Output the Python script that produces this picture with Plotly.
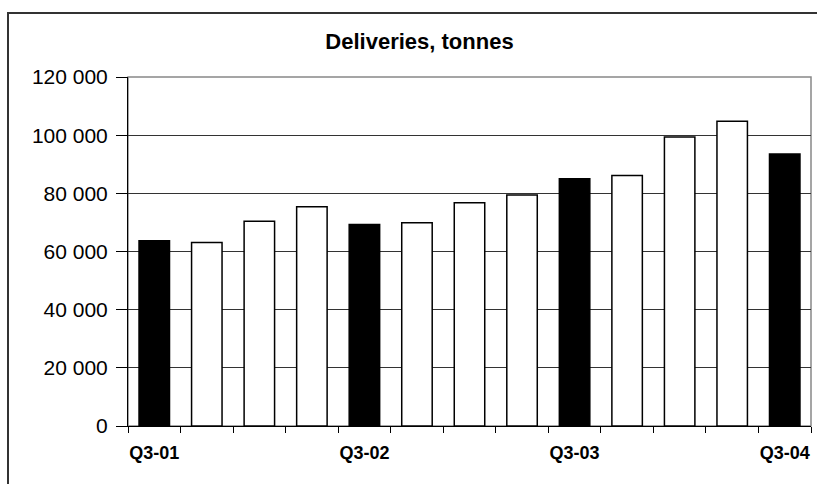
import plotly.graph_objects as go

quarters = ["Q3-01", "Q4-01", "Q1-02", "Q2-02", "Q3-02", "Q4-02", "Q1-03",
            "Q2-03", "Q3-03", "Q4-03", "Q1-04", "Q2-04", "Q3-04"]
deliveries = [63700, 63100, 70400, 75400, 69300, 69900, 76800,
              79400, 85000, 86100, 99400, 104800, 93500]
labelled = ["Q3-01", "Q3-02", "Q3-03", "Q3-04"]
y_ticks = [0, 20000, 40000, 60000, 80000, 100000, 120000]
y_tick_text = ["0", "20 000", "40 000", "60 000", "80 000", "100 000", "120 000"]

W, H = 817, 484
ML, MR, MT, MB = 128, 6, 77, 58

colors = ["black" if q.startswith("Q3") else "white" for q in quarters]

fig = go.Figure(go.Bar(
    x=quarters, y=deliveries,
    marker=dict(color=colors, line=dict(color="black", width=1.5)),
    width=0.58,
))

pw = W - ML - MR
ph = H - MT - MB

fig.update_layout(
    width=W, height=H,
    margin=dict(l=ML, r=MR, t=MT, b=MB, autoexpand=False),
    paper_bgcolor="white", plot_bgcolor="white",
    font=dict(family="Liberation Sans, Arial, sans-serif", color="black"),
    showlegend=False,
    title=dict(text="<b>Deliveries, tonnes</b>", x=419.5 / W, xref="container", xanchor="center",
               y=1 - 41 / H, yref="container", yanchor="middle",
               font=dict(size=22, color="black")),
    xaxis=dict(
        type="category", automargin=False,
        tickmode="array", tickvals=quarters,
        ticktext=[f"<b>{q}</b>" if q in labelled else "" for q in quarters],
        tickangle=0,
        tickson="boundaries", ticks="outside", ticklen=6, tickcolor="black", tickwidth=1,
        showline=True, linecolor="black", linewidth=1,
        showgrid=False, tickfont=dict(size=18, color="black"),
        ticklabelstandoff=10,
        range=[-0.5, len(quarters) - 0.5],
    ),
    yaxis=dict(
        automargin=False,
        range=[0, 120000], tickmode="array", tickvals=y_ticks, ticktext=y_tick_text,
        ticks="outside", ticklen=11, tickcolor="black", tickwidth=1,
        showline=True, linecolor="black", linewidth=1,
        showgrid=True, gridcolor="#333333", gridwidth=1,
        tickfont=dict(size=21, color="black"),
        ticklabelstandoff=4,
        zeroline=False,
    ),
    shapes=[
        dict(type="rect", xref="paper", yref="paper", x0=0, x1=1, y0=0, y1=1,
             line=dict(color="#888888", width=1.5), layer="below"),
        dict(type="rect", xref="paper", yref="paper",
             x0=(8 - ML) / pw, x1=(W + 20 - ML) / pw,
             y0=-(H + 20 - MT - ph) / ph, y1=(H - MB - 13) / ph,
             line=dict(color="#333333", width=2), layer="above"),
    ],
)

fig.write_html("out.html")
